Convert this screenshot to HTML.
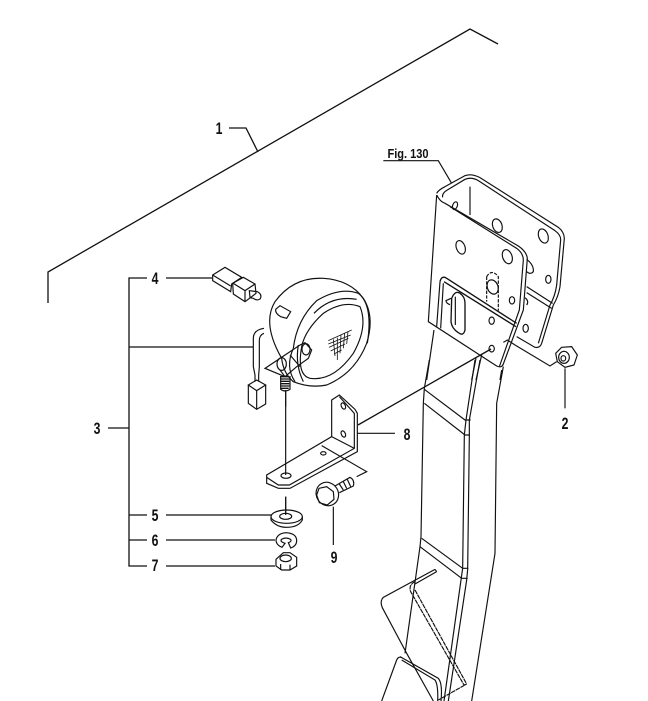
<!DOCTYPE html>
<html><head><meta charset="utf-8"><style>
html,body{margin:0;padding:0;background:#fff}
svg{display:block}
path,line,ellipse{fill:none;stroke:#111}
text{font-family:"Liberation Sans",sans-serif;font-weight:bold;font-size:17px;fill:#111;text-anchor:middle}
</style></head><body>
<svg width="648" height="701" viewBox="0 0 648 701" xmlns="http://www.w3.org/2000/svg">
<rect width="648" height="701" fill="#fff"/>
<g stroke-width="1.3">
<path d="M48 303V272L470 29L498 44"/>
<path d="M229 128H246L258 152"/>
<path d="M166 278H212M147 278H129V566H147M129 347H253M108 428H129M129 515H147M129 540H147M166 515H272M166 540H275M166 566H275"/>
<path d="M491 349L358 425"/>
</g>
<g>
<text transform="translate(219 134) scale(.72 1)">1</text>
<text transform="translate(155 284) scale(.72 1)">4</text>
<text transform="translate(97 434) scale(.72 1)">3</text>
<text transform="translate(155 521) scale(.72 1)">5</text>
<text transform="translate(155 546) scale(.72 1)">6</text>
<text transform="translate(155 571) scale(.72 1)">7</text>
<text transform="translate(407 440) scale(.72 1)">8</text>
<text transform="translate(334 563) scale(.72 1)">9</text>
<text transform="translate(565 429) scale(.72 1)">2</text>
<text transform="translate(408 158) scale(.85 1)" style="font-size:13px">Fig. 130</text>
</g>

<g transform="translate(370 140) scale(.33333)" stroke-width="3.5">
<path d="M40 62H205L245 130"/>
<path d="M200 160Q205 150 225 140L285 107Q305 100 330 113L565 262Q582 275 583 295L570 440Q565 470 550 495L515 610Q510 625 495 622L440 590"/>
<path d="M218 172Q215 160 232 150L285 118Q305 110 325 122L555 272Q573 285 572 300L560 435Q555 470 540 495L505 610"/>
<path d="M200 165L175 545L380 678Q395 685 400 672L460 510L472 355Q470 335 445 318L225 190Q210 185 200 165"/>
<path d="M388 680L448 510L460 360Q460 340 440 325L240 200"/>
<path d="M300 140L300 225"/>
<ellipse cx="272" cy="322" rx="13" ry="21" transform="rotate(-20 272 322)"/>
<ellipse cx="412" cy="350" rx="14" ry="22" transform="rotate(-20 412 350)"/>
<ellipse cx="382" cy="257" rx="14" ry="21" transform="rotate(-20 382 257)"/>
<ellipse cx="520" cy="288" rx="14" ry="22" transform="rotate(-20 520 288)"/>
<path d="M470 358Q492 375 490 395Q482 405 470 395"/>
<ellipse cx="535" cy="418" rx="8" ry="12"/>
<ellipse cx="426" cy="481" rx="8" ry="11"/>
<path d="M465 473Q478 483 470 495"/>
<ellipse cx="365" cy="542" rx="8" ry="11"/>
<ellipse cx="467" cy="565" rx="8" ry="12"/>
<ellipse cx="365" cy="626" rx="8" ry="10"/>
<ellipse cx="255" cy="197" rx="7" ry="12" transform="rotate(20 255 197)"/>
<ellipse cx="368" cy="441" rx="16" ry="22" transform="rotate(-20 368 441)"/>
<path d="M350 410Q365 385 385 410V512M350 410V485" stroke-dasharray="10 4"/>
<path d="M210 425Q215 405 230 415L440 550" stroke-width="4"/>
<path d="M222 425L438 560" stroke-width="4"/>
<path d="M210 425L200 560M220 430L212 565"/>
<path d="M245 475Q255 450 270 460Q285 470 285 490V570Q280 590 265 578Q245 565 243 545Z" stroke-width="4"/>
<path d="M256 470V555"/>
<path d="M243 475L228 482Q228 490 240 494"/>
<path d="M470 440L548 490M470 458L545 505"/>
<path d="M192 570L170 720M335 645L318 720M318 655L305 720"/>
<path d="M395 690L390 720"/>
<path d="M400 607L412 600L435 615M435 615L540 678L560 665"/>
<path d="M575 622L605 620L622 645L612 675L585 682L562 665L557 640Z" stroke-width="3.5" fill="#fff"/>
<ellipse cx="582" cy="652" rx="16" ry="18"/>
<ellipse cx="580" cy="655" rx="7" ry="8"/>
<path d="M585 685V805"/>
</g>

<g transform="translate(370 360) scale(.33333)" stroke-width="3.5">
<path d="M178 0L163 85L160 130L153 530L150 560L105 880"/>
<path d="M330 0L298 180L298 230L293 628L290 660L235 1023"/>
<path d="M315 0L288 180L283 225L278 625L273 660L222 1023"/>
<path d="M400 20L380 130L375 580L305 1023"/>
<path d="M163 88L285 180H302M163 130L285 225H300M155 535L278 625H295M150 560L275 655H293"/>
<path d="M195 628L40 712Q28 725 38 745L110 880L190 1023"/>
<path d="M200 635L135 672M195 628L200 635"/>
<path d="M135 665Q115 675 122 695L282 975M135 690L290 972M282 975L290 972L205 1020" stroke-dasharray="14 2"/>
<path d="M90 890L205 955Q218 970 213 1023M80 900L35 1023M80 900Q85 888 95 893M95 900L195 960Q205 975 203 1023"/>
</g>

<g transform="translate(260 270) scale(.33333)" stroke-width="3.5">
<path d="M65 265Q5 160 45 95Q100 20 190 25Q270 30 310 85Q345 140 320 220Q285 310 200 345Q150 355 100 335Q70 310 65 265Z"/>
<path d="M100 235Q110 150 170 92Q240 50 295 70Q340 105 322 220"/>
<path d="M162 130Q215 75 290 88"/>
<path d="M300 110Q325 170 280 250Q220 335 150 325Q110 315 125 230Q135 180 190 130Q250 90 300 110Z"/>
<path d="M105 335Q75 290 100 235M115 225Q105 285 130 335"/>
<path d="M47 118L60 107L92 125L80 145L62 140Q45 130 47 118Z"/>
<path d="M15 295L60 265L120 225L135 218L155 240L145 265L110 290L75 320Z"/>
<path d="M90 255L120 290M75 320L60 300"/>
<ellipse cx="65" cy="282" rx="14" ry="19"/>
<ellipse cx="138" cy="238" rx="12" ry="17"/>
<path d="M60 320H85M62 327H88M62 334H88M62 341H88M62 348H88M62 355H86" stroke-width="4"/>
<path d="M62 318V358Q75 368 90 358V318"/>
<path d="M77 360V410"/>
<path d="M205 212L275 180M205 222L272 195M207 232L265 205M212 243L255 222M222 252L245 240M220 208L225 258M232 203L232 270M243 195L240 250M254 190L250 235M264 185L260 222" stroke-width="2.4"/>
</g>

<g transform="translate(200 250) scale(.33333)" stroke-width="3.5">
<path d="M38 75L75 52L125 82L95 102L92 125L38 92Z"/>
<path d="M38 75L92 108"/>
<path d="M148 122L172 125Q187 133 181 146Q172 154 160 145L150 143Z" fill="#fff"/>
<path d="M98 100L130 82L165 102L168 130L135 155L100 132Z" fill="#fff"/>
<path d="M100 100L135 122L165 102M135 122V155"/>
<path d="M192 235Q160 240 160 265V350L165 375V395M192 250Q178 255 178 272V350L176 375V395"/>
<path d="M145 405L170 390L197 405L170 422ZM145 405V460L170 478L197 462V405M170 422V478"/>
</g>

<g transform="translate(250 380) scale(.33333)" stroke-width="3.5">
<path d="M245 60L268 45L315 88L322 100V215L120 325H85L50 310V285L245 170Z"/>
<path d="M50 292L85 315H118L313 205V100L268 50"/>
<path d="M245 170L313 205"/>
<ellipse cx="280" cy="78" rx="6" ry="10" transform="rotate(-25 280 78)"/>
<ellipse cx="280" cy="162" rx="6" ry="10" transform="rotate(-25 280 162)"/>
<ellipse cx="220" cy="220" rx="8" ry="5"/>
<ellipse cx="108" cy="287" rx="15" ry="8"/>
<path d="M322 160H435"/>
<path d="M215 197L350 275L320 290"/>
<path d="M107 35V285M107 350V405"/>
<path d="M255 318L300 292Q315 300 310 318L268 338"/>
<path d="M268 312L280 330M280 305L290 325M292 298L302 320"/>
<ellipse cx="232" cy="342" rx="33" ry="36" transform="rotate(-30 232 342)" fill="#fff"/>
<path d="M200 345L207 325L230 320L250 335L252 358L232 375L208 368Z"/>
<path d="M250 380V495"/>
</g>

<g transform="translate(120 490) scale(.33333)" stroke-width="3.5">
<ellipse cx="500" cy="80" rx="47" ry="20"/>
<path d="M453 80V90Q470 112 500 112Q535 112 547 90V80"/>
<ellipse cx="497" cy="79" rx="18" ry="9"/>
<path d="M497 20V72"/>
<path d="M486 172Q468 165 468 150Q472 130 498 128Q530 130 530 152Q530 168 512 174L505 158Q516 155 512 148Q498 140 484 148Q480 156 495 160Z"/>
<path d="M468 208L490 188H510L530 202V228L510 240H485L468 228Z"/>
<ellipse cx="497" cy="205" rx="17" ry="10"/>
<path d="M482 240V222M510 240V224"/>
</g>
</svg>
</body></html>
